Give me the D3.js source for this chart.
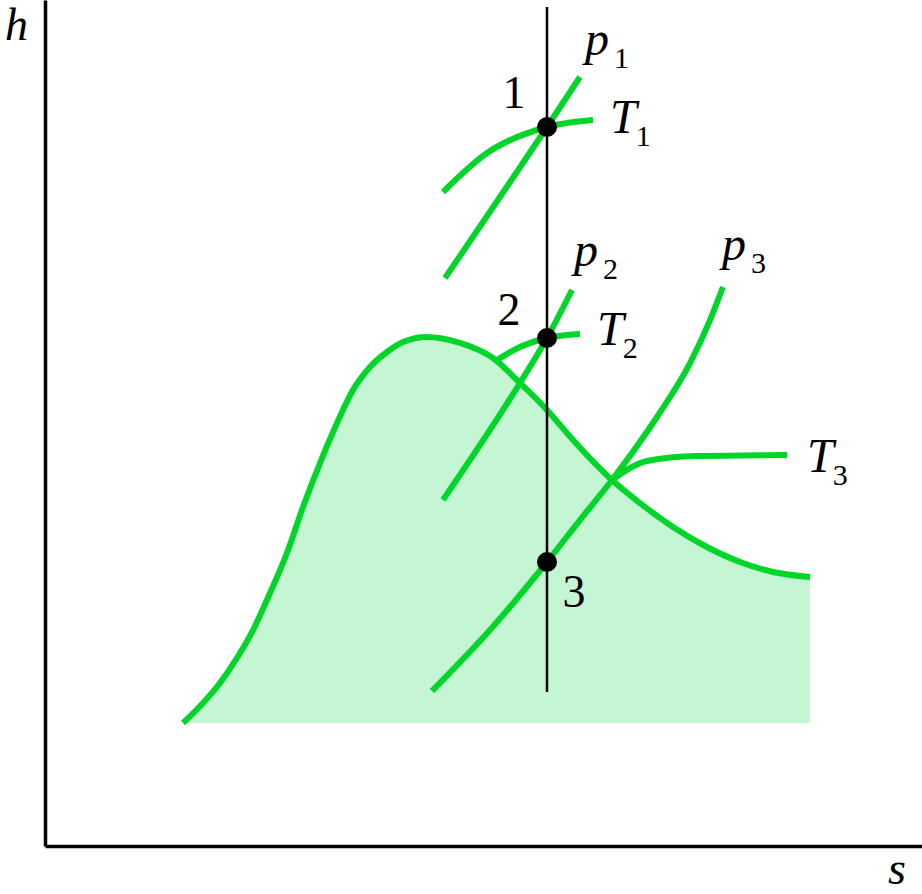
<!DOCTYPE html>
<html>
<head>
<meta charset="utf-8">
<script src="https://cdn.jsdelivr.net/npm/d3@7"></script>
<style>
  html, body { margin: 0; padding: 0; background: #fff; }
  svg { display: block; }
</style>
</head>
<body>
<svg id="chart" width="922" height="894"></svg>
<script>
// ---- Data (s = entropy, h = enthalpy, arbitrary units 0..10) ----
const domeS = [1.574, 1.802, 1.995, 2.189, 2.372, 2.566, 2.759, 2.942, 3.136, 3.330, 3.512, 3.706, 3.900, 4.082, 4.356, 4.732, 5.108, 5.416, 5.724, 6.021, 6.465, 6.784, 7.161, 7.548, 7.925, 8.301, 8.723];
const domeH = [1.454, 1.690, 1.927, 2.222, 2.553, 2.991, 3.463, 4.007, 4.527, 5.000, 5.390, 5.662, 5.839, 5.957, 6.017, 5.946, 5.768, 5.473, 5.154, 4.799, 4.326, 4.054, 3.771, 3.534, 3.357, 3.239, 3.180];
const domeBaseH = 1.454;

const p1S = [4.561, 5.724, 6.100];
const p1H = [6.714, 8.499, 9.090];
const T1S = [4.538, 5.040, 5.724, 6.249];
const T1H = [7.730, 8.191, 8.499, 8.582];

const p2S = [4.538, 5.416, 5.724, 6.009];
const p2H = [4.090, 5.473, 6.005, 6.572];
const T2S = [5.154, 5.416, 5.724, 6.100];
const T2H = [5.745, 5.898, 6.005, 6.052];

const p3S = [4.413, 5.074, 5.724, 6.100, 6.465, 6.978, 7.355, 7.583, 7.731];
const p3H = [1.832, 2.553, 3.357, 3.853, 4.326, 5.071, 5.709, 6.217, 6.608];
const T3S = [6.465, 6.670, 6.864, 7.434, 8.461];
const T3H = [4.326, 4.468, 4.551, 4.610, 4.622];

const isentropeS = 5.724;
const isentropeH = [1.820, 9.917];

const stateNames = ["1", "2", "3"];
const stateS = [5.724, 5.724, 5.724];
const stateH = [8.499, 6.005, 3.357];

const curveNames = ["p1", "T1", "p2", "T2", "p3", "T3"];
const curveLetters = ["p", "T", "p", "T", "p", "T"];
const curveSubs = ["1", "1", "2", "2", "3", "3"];

// ---- Layout ----
const FONT = "'Liberation Serif', 'Times New Roman', Times, 'DejaVu Serif', 'Noto Serif', serif";
const svg = d3.select("#chart");
const x = d3.scaleLinear().domain([0, 10]).range([45, 922]);
const y = d3.scaleLinear().domain([0, 10]).range([846, 0]);

const GREEN = "#00d62a";
const FILL = "#c4f6d4";

const zip = (S, H) => S.map((s, i) => ({ s, h: H[i] }));
const line = d3.line().x(d => x(d.s)).y(d => y(d.h)).curve(d3.curveMonotoneX);

// dome fill
const dome = zip(domeS, domeH);
svg.append("path")
  .datum(dome)
  .attr("fill", FILL)
  .attr("d", d3.area().x(d => x(d.s)).y0(y(domeBaseH)).y1(d => y(d.h)).curve(d3.curveMonotoneX));

// green curves
const curves = [
  { name: "p1", pts: zip(p1S, p1H) },
  { name: "T1", pts: zip(T1S, T1H) },
  { name: "p2", pts: zip(p2S, p2H) },
  { name: "T2", pts: zip(T2S, T2H) },
  { name: "p3", pts: zip(p3S, p3H) },
  { name: "T3", pts: zip(T3S, T3H) }
];

svg.append("path").datum(dome)
  .attr("fill", "none").attr("stroke", GREEN).attr("stroke-width", 6)
  .attr("d", line);

svg.selectAll("path.iso").data(curves).enter().append("path")
  .attr("class", "iso")
  .attr("fill", "none").attr("stroke", GREEN).attr("stroke-width", 6)
  .attr("d", d => line(d.pts));

// axes (no ticks)
svg.append("g").attr("transform", `translate(0,${y(0)})`)
  .call(d3.axisBottom(x).tickValues([]).tickSizeOuter(0))
  .select(".domain").attr("stroke-width", 3.5);
svg.append("g").attr("transform", `translate(${x(0)},0)`)
  .call(d3.axisLeft(y).tickValues([]).tickSizeOuter(0))
  .select(".domain").attr("stroke-width", 3.5);

// isentropic process line
svg.append("line")
  .attr("x1", x(isentropeS)).attr("x2", x(isentropeS))
  .attr("y1", y(isentropeH[0])).attr("y2", y(isentropeH[1]))
  .attr("stroke", "#000").attr("stroke-width", 2.5);

// state points
const states = stateNames.map((n, i) => ({ name: n, s: stateS[i], h: stateH[i] }));
svg.selectAll("circle.state").data(states).enter().append("circle")
  .attr("class", "state")
  .attr("cx", d => x(d.s)).attr("cy", d => y(d.h)).attr("r", 10)
  .attr("fill", "#000");

const stateOffsets = { "1": [-33, -19], "2": [-38, -13], "3": [27, 45] };
svg.selectAll("text.state").data(states).enter().append("text")
  .attr("class", "state")
  .attr("font-family", FONT)
  .attr("x", d => x(d.s) + stateOffsets[d.name][0])
  .attr("y", d => y(d.h) + stateOffsets[d.name][1])
  .attr("text-anchor", "middle")
  .attr("font-size", 46)
  .text(d => d.name);

// curve labels (placed relative to curve end)
const labelOffsets = { p1: [5, -22], T1: [17, 13], p2: [2, -24], T2: [17, 11], p3: [-1, -27], T3: [20, 17] };
const subDx = { p: 5, T: -1 };
curves.forEach((c, i) => {
  const end = c.pts[c.pts.length - 1];
  const off = labelOffsets[c.name];
  const t = svg.append("text")
    .attr("font-family", FONT)
    .attr("x", x(end.s) + off[0])
    .attr("y", y(end.h) + off[1])
    .attr("font-size", 48);
  t.append("tspan").attr("font-style", "italic").text(curveLetters[i]);
  t.append("tspan").attr("font-size", 30).attr("dx", subDx[curveLetters[i]]).attr("dy", 13).text(curveSubs[i]);
});

// axis labels
svg.append("text").attr("font-family", FONT).attr("x", 5).attr("y", 40).attr("font-size", 46).attr("font-style", "italic").text("h");
svg.append("text").attr("font-family", FONT).attr("x", 888).attr("y", 884).attr("font-size", 46).attr("font-style", "italic").text("s");
</script>
</body>
</html>
